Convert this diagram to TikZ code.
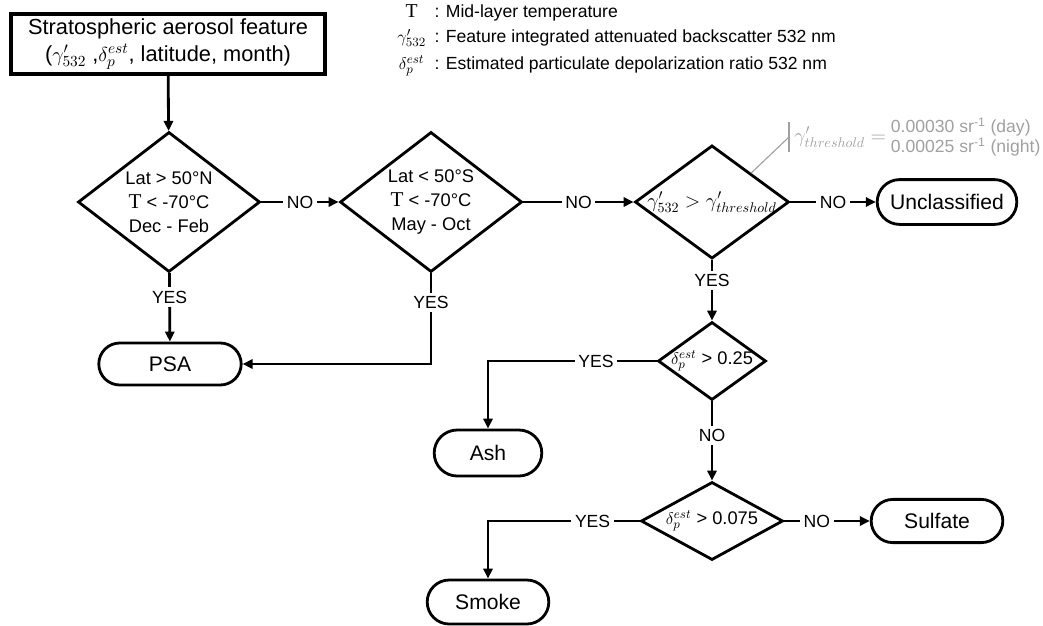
\documentclass[tikz,border=0pt]{standalone}
\usepackage{fontspec}
\setmainfont{Liberation Sans}
\newfontfamily\serifT{Liberation Serif}
\usetikzlibrary{arrows.meta,shapes.geometric,shapes.misc}
\definecolor{nota}{HTML}{A0A0A0}
\newcommand{\fitin}[1]{\makebox[0pt]{#1}}

\begin{document}
\begin{tikzpicture}[x=0.025cm, y=-0.025cm, >={Triangle[length=2.5mm, width=2.3mm]},
      font=\fontsize{13}{17}\selectfont,
      cond/.style={diamond, draw, line width=2pt, aspect=1.3, inner sep=0pt, align=center},
      term/.style={rounded rectangle, draw, line width=2pt, inner sep=2pt,
                   font=\fontsize{15}{18}\selectfont},
      flow/.style={line width=2pt},
      lbl/.style={fill=white, inner sep=2.5pt, font=\fontsize{12.5}{15}\selectfont},
      note/.style={nota, line width=0.8pt}]
    \useasboundingbox (0,0) rectangle (1043,625);
    % legend
    \node[anchor=north west, inner sep=0pt, font=\fontsize{12.5}{16.5}\selectfont] (legend) at (397,1)
      {\begin{tabular}{@{}c@{\hspace{6pt}}l@{}}
         {\serifT\fontsize{14}{17}\selectfont T} & : Mid-layer temperature\\[1pt]
         $\gamma'_{532}$ & : Feature integrated attenuated backscatter 532 nm\\[3pt]
         $\delta_p^{est}$ & : Estimated particulate depolarization ratio 532 nm
       \end{tabular}};
    % input
    \node[draw, line width=3pt, minimum width=7.85cm, minimum height=1.5cm, align=center,
          font=\fontsize{15.5}{19}\selectfont] (feat) at (168,44)
      {Stratospheric aerosol feature\\($\gamma'_{532}$ ,$\delta_p^{est}$, latitude, month)};
    % decisions
    \node[cond, minimum width=4.55cm, minimum height=3.5cm] (d1) at (169,202)
      {Lat > 50°N\\{\serifT\fontsize{15}{17}\selectfont T} < -70°C\\Dec - Feb};
    \node[cond, minimum width=4.55cm, minimum height=3.5cm] (d2) at (431,202)
      {Lat < 50°S\\{\serifT\fontsize{15}{17}\selectfont T} < -70°C\\May - Oct};
    \node[cond, minimum width=3.85cm, minimum height=2.83cm, font=\fontsize{14.5}{17}\selectfont] (d3) at (712,202)
      {\fitin{$\gamma'_{532} > \gamma'_{threshold}$}};
    \node[cond, minimum width=2.7cm, minimum height=1.95cm] (d4) at (712,361)
      {\fitin{$\delta_p^{est}$\;> 0.25}};
    \node[cond, minimum width=3.55cm, minimum height=1.95cm] (d5) at (712,521)
      {\fitin{$\delta_p^{est}$\;> 0.075}};
    % outcomes
    \node[term, minimum width=3.7cm, minimum height=1.05cm] (psa) at (170,364) {PSA};
    \node[term, minimum width=3.63cm, minimum height=1.12cm] (uncl) at (947,202) {Unclassified};
    \node[term, minimum width=2.83cm, minimum height=1.15cm] (ash) at (488,453) {Ash};
    \node[term, minimum width=3.18cm, minimum height=1.1cm] (smoke) at (488,602) {Smoke};
    \node[term, minimum width=3.43cm, minimum height=1.08cm] (sulf) at (937,521) {Sulfate};
    % threshold note
    \node[anchor=west, text=nota, inner sep=0pt, font=\fontsize{12.5}{13.5}\selectfont] (thr) at (794,138)
      {{\fontsize{14}{14}\selectfont$\gamma'_{threshold} =$} \begin{tabular}{@{}l@{}}0.00030 sr\textsuperscript{-1} (day)\\
        0.00025 sr\textsuperscript{-1} (night)\end{tabular}};
    \coordinate (tick) at (789,137);
    \draw[note] (d3.north east) -- (tick);
    \draw[note] (tick) ++(0,-15) -- ++(0,30);
    % connectors
    \draw[flow,->] (feat) -- (d1);
    \draw[flow,->] (d1) -- node[lbl]{NO} (d2);
    \draw[flow,->] (d1) -- node[lbl, pos=0.35]{YES} (psa);
    \draw[flow,->] (d2) |- node[lbl, pos=0.16]{YES} (psa);
    \draw[flow,->] (d2) -- node[lbl]{NO} (d3);
    \draw[flow,->] (d3) -- node[lbl]{NO} (uncl);
    \draw[flow,->] (d3) -- node[lbl, pos=0.34]{YES} (d4);
    \draw[flow,->] (d4) -| node[lbl, pos=0.18]{YES} (ash);
    \draw[flow,->] (d4) -- node[lbl, pos=0.43]{NO} (d5);
    \draw[flow,->] (d5) -| node[lbl, pos=0.155]{YES} (smoke);
    \draw[flow,->] (d5) -- node[lbl, pos=0.38]{NO} (sulf);
  \end{tikzpicture}
\end{document}
